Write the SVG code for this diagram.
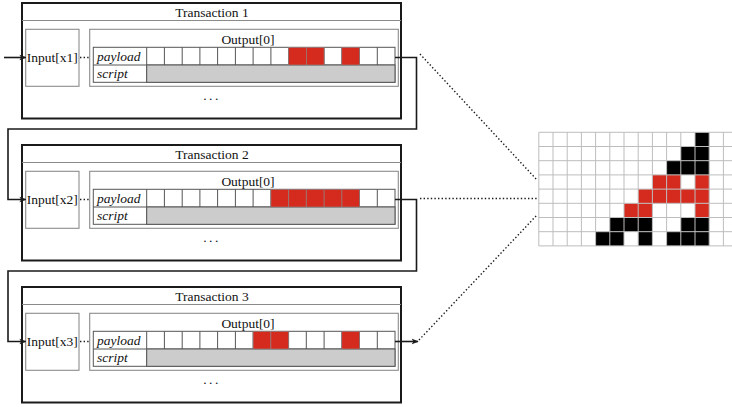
<svg xmlns="http://www.w3.org/2000/svg" width="732" height="407" viewBox="0 0 732 407">
  <style>
    .outer { fill: #fff; stroke: #1a1a1a; stroke-width: 2; }
    .divider { stroke: #8a8a8a; stroke-width: 1; }
    .inbox { fill: #fff; stroke: #8c8c8c; stroke-width: 1.1; }
    .tbl { fill: #fff; stroke: #555; stroke-width: 1; }
    .scr { fill: #cbcccb; stroke: #555; stroke-width: 1; }
    .red { fill: #d52b1f; stroke: #8a8a8a; stroke-width: 0.6; }
    .t { font-family: "Liberation Serif", "Times New Roman", "DejaVu Serif", serif; font-size: 13.5px; fill: #111; }
    .c { text-anchor: middle; }
    .it { font-style: italic; }
    .wire { fill: none; stroke: #1a1a1a; stroke-width: 1.6; }
    .dots { fill: none; stroke: #1a1a1a; stroke-width: 1.4; stroke-dasharray: 1.4 2.2; }
    .grid { fill: none; stroke: #bdbdbd; stroke-width: 1; }
    .px-b { fill: #000; }
    .px-r { fill: #d52b1f; }
  </style>
  <defs>
    <marker id="arrow" viewBox="0 0 10 10" refX="9" refY="5" markerWidth="7" markerHeight="7" markerUnits="userSpaceOnUse" orient="auto">
      <path d="M0,1 L10,5 L0,9 L2.5,5 z" fill="#1a1a1a"/>
    </marker>
    <!-- one transaction body; title, input label and red payload cells are added per instance -->
    <g id="txBody">
      <rect class="outer" x="22" y="3" width="379" height="115.5"/>
      <line class="divider" x1="22" y1="20.5" x2="401" y2="20.5"/>
      <rect class="inbox" x="25.7" y="29.3" width="53.3" height="57"/>
      <rect class="inbox" x="89.7" y="29.3" width="308.6" height="57"/>
      <text class="t c" x="248" y="43.5" font-family="Liberation Serif, serif">Output[0]</text>
      <line class="dots" x1="80" y1="57.5" x2="89.5" y2="57.5"/>
      <rect class="tbl" x="93.3" y="47.3" width="301.7" height="35"/>
      <line class="tbl" x1="93.3" y1="65" x2="395" y2="65"/>
      <line class="tbl" x1="146.7" y1="47.3" x2="146.7" y2="82.3"/>
      <rect class="scr" x="146.7" y="65" width="248.3" height="17.3"/>
      <!-- 14 payload cells -->
      <g class="tbl">
        <line x1="164.4" y1="47.3" x2="164.4" y2="65"/>
        <line x1="182.2" y1="47.3" x2="182.2" y2="65"/>
        <line x1="199.9" y1="47.3" x2="199.9" y2="65"/>
        <line x1="217.6" y1="47.3" x2="217.6" y2="65"/>
        <line x1="235.4" y1="47.3" x2="235.4" y2="65"/>
        <line x1="253.1" y1="47.3" x2="253.1" y2="65"/>
        <line x1="270.9" y1="47.3" x2="270.9" y2="65"/>
        <line x1="288.6" y1="47.3" x2="288.6" y2="65"/>
        <line x1="306.3" y1="47.3" x2="306.3" y2="65"/>
        <line x1="324.1" y1="47.3" x2="324.1" y2="65"/>
        <line x1="341.8" y1="47.3" x2="341.8" y2="65"/>
        <line x1="359.5" y1="47.3" x2="359.5" y2="65"/>
        <line x1="377.3" y1="47.3" x2="377.3" y2="65"/>
      </g>
      <text class="t it" x="97" y="60.5">payload</text>
      <text class="t it" x="97" y="77.5">script</text>
      <text class="t c" x="212" y="100" letter-spacing="2.5">...</text>
    </g>
  </defs>

  <!-- Transaction 1 -->
  <g id="tx1">
    <use href="#txBody"/>
    <text class="t c" x="212" y="17">Transaction 1</text>
    <text class="t c" x="52.3" y="61.8">Input[x1]</text>
    <rect class="red" x="288.6" y="47.3" width="17.7" height="17.7"/>
    <rect class="red" x="306.3" y="47.3" width="17.8" height="17.7"/>
    <rect class="red" x="341.8" y="47.3" width="17.7" height="17.7"/>
  </g>

  <!-- Transaction 2 -->
  <g id="tx2" transform="translate(0,142)">
    <use href="#txBody"/>
    <text class="t c" x="212" y="17">Transaction 2</text>
    <text class="t c" x="52.3" y="61.8">Input[x2]</text>
    <rect class="red" x="270.9" y="47.3" width="88.6" height="17.7"/>
    <g stroke="#8a8a8a" stroke-width="0.8">
      <line x1="288.6" y1="47.3" x2="288.6" y2="65"/>
      <line x1="306.3" y1="47.3" x2="306.3" y2="65"/>
      <line x1="324.1" y1="47.3" x2="324.1" y2="65"/>
      <line x1="341.8" y1="47.3" x2="341.8" y2="65"/>
    </g>
  </g>

  <!-- Transaction 3 -->
  <g id="tx3" transform="translate(0,284)">
    <use href="#txBody"/>
    <text class="t c" x="212" y="17">Transaction 3</text>
    <text class="t c" x="52.3" y="61.8">Input[x3]</text>
    <rect class="red" x="253.1" y="47.3" width="17.8" height="17.7"/>
    <rect class="red" x="270.9" y="47.3" width="17.7" height="17.7"/>
    <rect class="red" x="341.8" y="47.3" width="17.7" height="17.7"/>
  </g>

  <!-- Pixel image: 14 x 8 cells -->
  <g id="pixels">
    <g class="px-b">
      <rect x="695" y="132.3" width="14.2" height="14.2"/>
      <rect x="680.8" y="146.5" width="28.4" height="14.2"/>
      <rect x="666.6" y="160.7" width="42.6" height="14.2"/>
      <rect x="609.8" y="217.5" width="42.6" height="14.2"/>
      <rect x="680.8" y="217.5" width="28.4" height="14.2"/>
      <rect x="595.6" y="231.7" width="28.4" height="14.2"/>
      <rect x="638.2" y="231.7" width="14.2" height="14.2"/>
      <rect x="666.6" y="231.7" width="42.6" height="14.2"/>
    </g>
    <g class="px-r">
      <rect x="652.4" y="174.9" width="28.4" height="14.2"/>
      <rect x="695" y="174.9" width="14.2" height="14.2"/>
      <rect x="638.2" y="189.1" width="71" height="14.2"/>
      <rect x="624" y="203.3" width="28.4" height="14.2"/>
      <rect x="695" y="203.3" width="14.2" height="14.2"/>
    </g>
    <path class="grid" d="M538.8,132.3 H737.6 M538.8,146.5 H737.6 M538.8,160.7 H737.6 M538.8,174.9 H737.6 M538.8,189.1 H737.6 M538.8,203.3 H737.6 M538.8,217.5 H737.6 M538.8,231.7 H737.6 M538.8,245.9 H737.6
      M538.8,132.3 V245.9 M553,132.3 V245.9 M567.2,132.3 V245.9 M581.4,132.3 V245.9 M595.6,132.3 V245.9 M609.8,132.3 V245.9 M624,132.3 V245.9 M638.2,132.3 V245.9 M652.4,132.3 V245.9 M666.6,132.3 V245.9 M680.8,132.3 V245.9 M695,132.3 V245.9 M709.2,132.3 V245.9 M723.4,132.3 V245.9"/>
  </g>

  <!-- Connectors -->
  <g id="connectors">
    <line class="wire" x1="4" y1="57.5" x2="25.7" y2="57.5" marker-end="url(#arrow)"/>
    <path class="wire" d="M395,57.5 H416.5 V129 H8 V199.5 H25.7" marker-end="url(#arrow)"/>
    <path class="wire" d="M395,199.5 H416.5 V271 H8 V341.5 H25.7" marker-end="url(#arrow)"/>
    <line class="wire" x1="395" y1="341.5" x2="418" y2="341.5" marker-end="url(#arrow)"/>
    <line class="dots" x1="420" y1="54" x2="537" y2="180"/>
    <line class="dots" x1="420" y1="198.5" x2="537" y2="198.5"/>
    <line class="dots" x1="419" y1="340" x2="537" y2="215"/>
  </g>
</svg>
